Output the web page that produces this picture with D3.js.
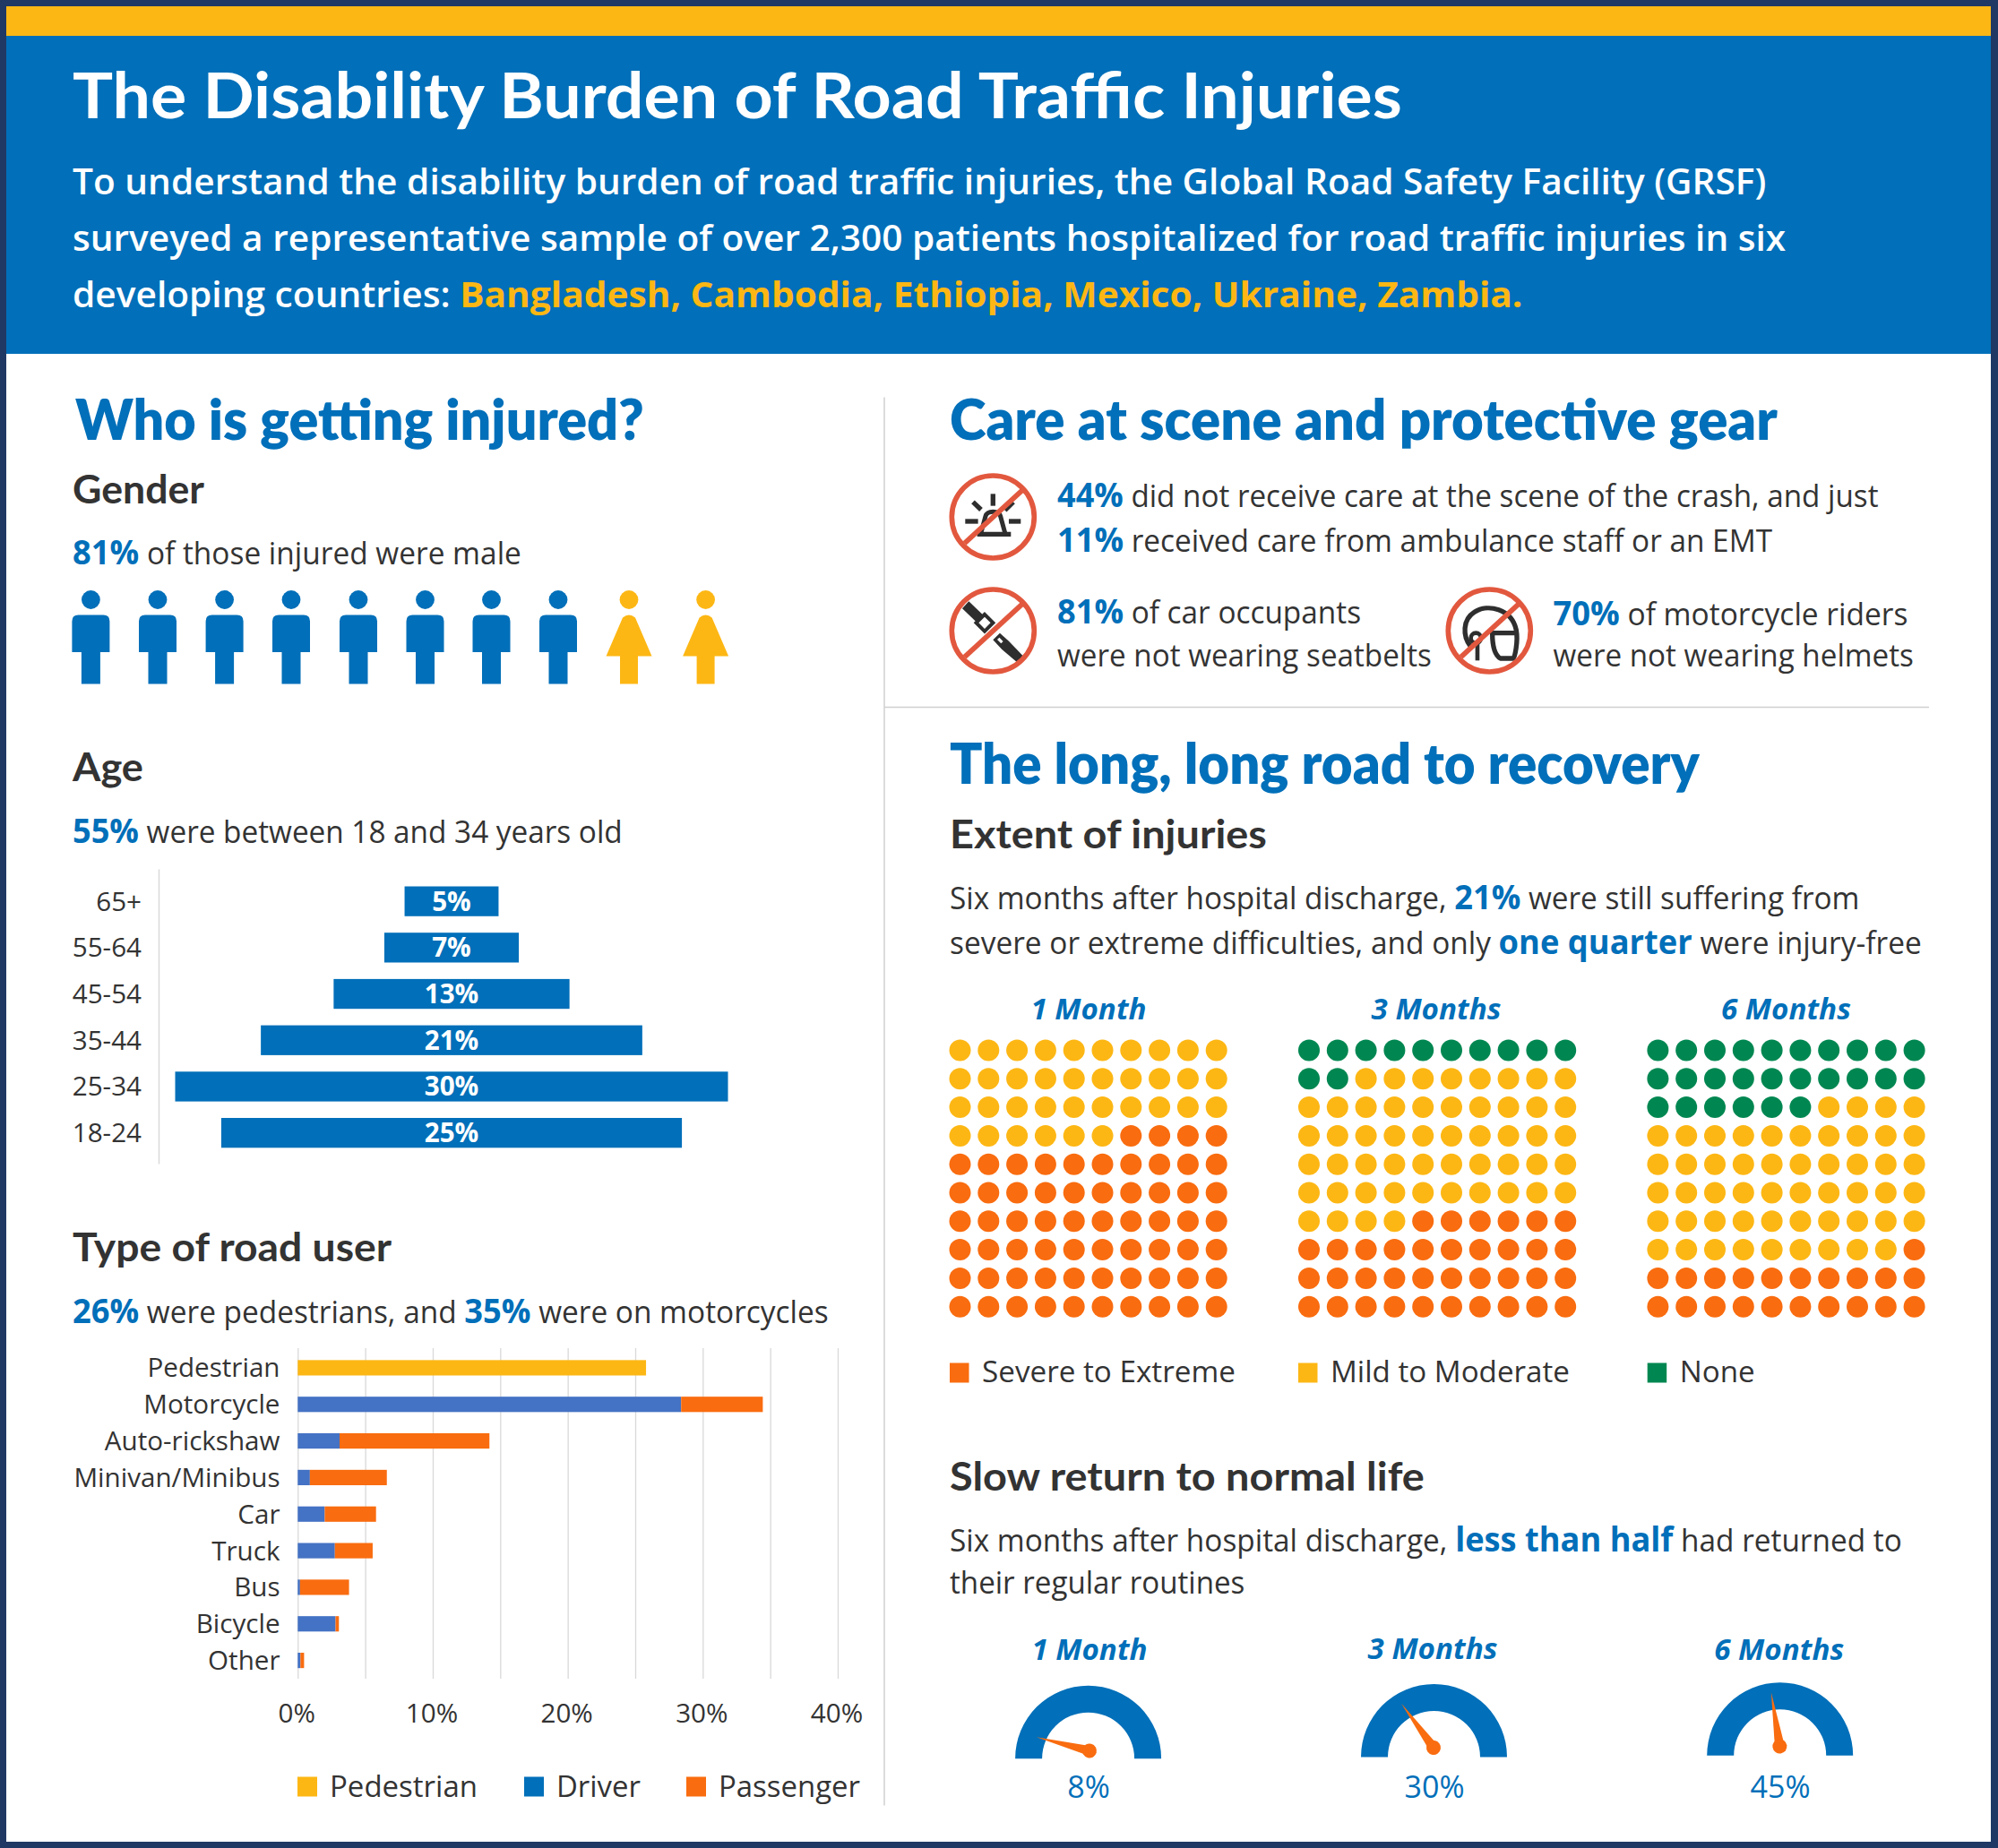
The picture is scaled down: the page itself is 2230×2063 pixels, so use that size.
<!DOCTYPE html>
<html><head><meta charset="utf-8">
<script src="https://cdn.jsdelivr.net/npm/d3@7"></script>
<style>html,body{margin:0;padding:0;background:#fff}svg{display:block}</style>
</head><body><svg id="c" width="2230" height="2063"></svg>
<script>
// ---------- data ----------
const ageGroups = ["65+","55-64","45-54","35-44","25-34","18-24"];
const ageShares = [5.1,7.3,12.8,20.7,30,25];
const ageLabels = ["5%","7%","13%","21%","30%","25%"];
const roadUsers = ["Pedestrian","Motorcycle","Auto-rickshaw","Minivan/Minibus","Car","Truck","Bus","Bicycle","Other"];
const roadPedestrian = [25.8,0,0,0,0,0,0,0,0];
const roadDriver = [0,28.4,3.1,0.9,2.0,2.75,0.17,2.8,0.2];
const roadPassenger = [0,6.05,11.1,5.7,3.8,2.8,3.63,0.25,0.27];
const roadKeys = ["Pedestrian","Driver","Passenger"];
const roadTicks = [0,5,10,15,20,25,30,35,40];
const genderIcons = ["m","m","m","m","m","m","m","m","f","f"];
const periods = ["1 Month","3 Months","6 Months"];
const extentNone = [0,12,26];
const extentMild = [36,52,53];
const extentSevere = [64,36,21];
const extentKeys = ["Severe to Extreme","Mild to Moderate","None"];
const returnedPct = [8,30,45];

const BLUE="#016fb9",NAVY="#1f3864",YEL="#fdb714",ORG="#f96c0f",GRN="#008751",DARK="#333333",RED="#e2583e",GRID="#d9d9d9",BAR2="#4472c4";
const OS="'Open Sans',sans-serif", HD="Lato,sans-serif";
const frame=d3.select("#c");

// ---------- frame ----------
frame.append("rect").attr("width",2230).attr("height",2063).attr("fill",NAVY);
frame.append("rect").attr("x",7).attr("y",7).attr("width",2215).attr("height",2049).attr("fill","#fff");
frame.append("rect").attr("x",7).attr("y",7).attr("width",2215).attr("height",33).attr("fill",YEL);
frame.append("rect").attr("x",7).attr("y",40).attr("width",2215).attr("height",355).attr("fill",BLUE);

const svg=frame.append("g").attr("transform","translate(0,1.5)");

// text helper: parts=[[string,{fill,weight,size}],...]; horizontally fitted to the width
function put(x,y,parts,o){
  if(typeof parts==="string")parts=[[parts,{}]];
  const t=svg.append("text").attr("font-family",o.font||OS).attr("font-size",o.size)
    .attr("font-weight",o.weight||400).attr("font-style",o.italic?"italic":null).attr("fill",o.fill||DARK);
  parts.forEach(p=>{const s=t.append("tspan").text(p[0]);
    if(p[1].fill)s.attr("fill",p[1].fill); if(p[1].weight)s.attr("font-weight",p[1].weight); if(p[1].size)s.attr("font-size",p[1].size);});
  const len=t.node().getComputedTextLength();
  const k=o.w?o.w/len:1, w=len*k;
  const dx=o.anchor==="end"?-w:o.anchor==="middle"?-w/2:0;
  t.attr("transform",`translate(${x+dx},${y}) scale(${k},1)`);
  return t;
}
const B={fill:BLUE,weight:700,size:38};

// ---------- header ----------
put(81,130.5,"The Disability Burden of Road Traffic Injuries",{font:HD,size:70,weight:700,fill:"#fff",w:1484});
const hw={fill:"#fff",size:39.5,weight:600};
put(81,215.5,"To understand the disability burden of road traffic injuries, the Global Road Safety Facility (GRSF)",{...hw,w:1891});
put(81,278.5,"surveyed a representative sample of over 2,300 patients hospitalized for road traffic injuries in six",{...hw,w:1913});
put(81,341,[["developing countries: ",{}],["Bangladesh, Cambodia, Ethiopia, Mexico, Ukraine, Zambia.",{fill:YEL,weight:700}]],{...hw,w:1619});

// ---------- dividers ----------
svg.append("line").attr("x1",987).attr("x2",987).attr("y1",442).attr("y2",2014).attr("stroke","#d0d0d0").attr("stroke-width",1.5);
svg.append("line").attr("x1",987).attr("x2",2153).attr("y1",788).attr("y2",788).attr("stroke","#d0d0d0").attr("stroke-width",1.5);

// ---------- section headings ----------
const H1={font:HD,size:63,weight:800,fill:BLUE}, H2={font:HD,size:43,weight:700,fill:DARK}, BODY={size:35};
put(84,489,"Who is getting injured?",{...H1,w:635});
put(81,560,"Gender",{...H2,w:147});
put(81,628.5,[["81%",B],[" of those injured were male",{}]],{...BODY,w:501});
put(81,870.5,"Age",{...H2,w:79});
put(81,939.5,[["55%",B],[" were between 18 and 34 years old",{}]],{...BODY,w:614});
put(81,1406,"Type of road user",{...H2,w:356});
put(81,1475.5,[["26%",B],[" were pedestrians, and ",{}],["35%",B],[" were on motorcycles",{}]],{...BODY,w:844});
put(1060,489,"Care at scene and protective gear",{...H1,w:924});
put(1060,873.5,"The long, long road to recovery",{...H1,w:837});
put(1060,945,"Extent of injuries",{...H2,w:354});
put(1060,1013.5,[["Six months after hospital discharge, ",{}],["21%",B],[" were still suffering from",{}]],{...BODY,w:1016});
put(1060,1063.5,[["severe or extreme difficulties, and only ",{}],["one quarter",B],[" were injury-free",{}]],{...BODY,w:1085});
put(1060,1662,"Slow return to normal life",{...H2,w:530});
put(1060,1730.5,[["Six months after hospital discharge, ",{}],["less than half",B],[" had returned to",{}]],{...BODY,w:1063});
put(1060,1777,"their regular routines",{...BODY,w:329.5});

// ---------- gender icons ----------
const genderX=d3.scaleOrdinal().domain(d3.range(10)).range([101.4,176,250.6,325,400,474.5,548.5,623,702,787.6]);
const MALE="M-21,692 L-21,726.5 L-10.5,726.5 L-10.5,762 L10.5,762 L10.5,726.5 L21,726.5 L21,692 Q21,685 14,685 L-14,685 Q-21,685 -21,692 Z";
const FEMALE="M-7,688 Q0,682 7,688 L25.5,731 L10,731 L10,762 L-10,762 L-10,731 L-25.5,731 Z";
const gG=svg.append("g").selectAll("g").data(genderIcons).join("g")
  .attr("transform",(d,i)=>`translate(${genderX(i)},0)`).attr("fill",d=>d==="m"?BLUE:YEL);
gG.append("circle").attr("cy",668).attr("r",10.4);
gG.append("path").attr("d",d=>d==="m"?MALE:FEMALE);

// ---------- age bars ----------
const ageY=d3.scaleBand().domain(ageGroups).range([978.8,1289]).paddingInner(.356).paddingOuter(.178);
const ageW=d3.scaleLinear().domain([0,30]).range([0,617]);
const ageCx=504;
svg.append("line").attr("x1",177.5).attr("x2",177.5).attr("y1",969).attr("y2",1298).attr("stroke",GRID).attr("stroke-width",1.5);
svg.append("g").attr("fill",BLUE).selectAll("rect").data(ageGroups).join("rect")
  .attr("x",(d,i)=>ageCx-ageW(ageShares[i])/2).attr("y",d=>ageY(d)).attr("width",(d,i)=>ageW(ageShares[i])).attr("height",ageY.bandwidth());
svg.append("g").selectAll("text").data(ageGroups).join("text").attr("x",158).attr("y",d=>ageY(d)+ageY.bandwidth()/2+10.5)
  .attr("text-anchor","end").attr("font-family",OS).attr("font-size",29.6).attr("fill",DARK).text(d=>d);
svg.append("g").selectAll("text").data(ageLabels).join("text").attr("x",ageCx).attr("y",(d,i)=>ageY(ageGroups[i])+ageY.bandwidth()/2+10.5)
  .attr("text-anchor","middle").attr("font-family",OS).attr("font-size",29.6).attr("font-weight",700).attr("fill","#fff").text(d=>d);

// ---------- road users ----------
const rx=d3.scaleLinear().domain([0,40]).range([332.3,935]);
const ry=d3.scaleBand().domain(roadUsers).range([1505,1872.5]).paddingInner(.58).paddingOuter(.29);
const ax=svg.append("g").attr("transform","translate(0,1872.4)")
  .call(d3.axisBottom(rx).tickValues(roadTicks).tickSize(-369).tickFormat(d=>d%10===0?d+"%":""));
ax.select(".domain").remove();
ax.selectAll("line").attr("stroke",GRID).attr("stroke-width",1.3);
ax.selectAll("text").attr("font-family",OS).attr("font-size",29.6).attr("fill",DARK).attr("dy",0).attr("y",49).attr("x",-1.5);
const roadRows=roadUsers.map((u,i)=>({u,Pedestrian:roadPedestrian[i],Driver:roadDriver[i],Passenger:roadPassenger[i]}));
const roadStack=d3.stack().keys(roadKeys)(roadRows);
const roadCol={Pedestrian:YEL,Driver:BAR2,Passenger:ORG};
svg.append("g").selectAll("g").data(roadStack).join("g").attr("fill",s=>roadCol[s.key])
  .selectAll("rect").data(s=>s).join("rect")
  .attr("x",d=>rx(d[0])).attr("width",d=>rx(d[1])-rx(d[0])).attr("y",d=>ry(d.data.u)).attr("height",ry.bandwidth());
svg.append("g").selectAll("text").data(roadUsers).join("text").attr("x",312.5).attr("y",d=>ry(d)+ry.bandwidth()/2+10.5)
  .attr("text-anchor","end").attr("font-family",OS).attr("font-size",29.6).attr("fill",DARK).text(d=>d);
const roadLegX=d3.scaleOrdinal().domain(roadKeys).range([332,585,766]);
const roadLegW=d3.scaleOrdinal().domain(roadKeys).range([165,94,158]);
const roadLegC=d3.scaleOrdinal().domain(roadKeys).range([YEL,BLUE,ORG]);
roadKeys.forEach(k=>{
  svg.append("rect").attr("x",roadLegX(k)).attr("y",1982).attr("width",22).attr("height",22).attr("fill",roadLegC(k));
  put(roadLegX(k)+36,2004.5,k,{size:32,w:roadLegW(k)});
});

// ---------- icons ----------
function icon(cx,cy,draw){
  const g=svg.append("g").attr("transform",`translate(${cx},${cy}) scale(.3333) translate(-175,-172)`);
  draw(g);
  g.append("circle").attr("cx",175).attr("cy",172).attr("r",138).attr("fill","none").attr("stroke",RED).attr("stroke-width",17);
  g.append("line").attr("x1",272).attr("y1",84).attr("x2",80).attr("y2",260).attr("stroke",RED).attr("stroke-width",17);
}
const INK="#2e2e2e";
icon(1108.3,575.5,g=>{
  const ln=(a,b,c,d)=>g.append("line").attr("x1",a).attr("y1",b).attr("x2",c).attr("y2",d).attr("stroke",INK).attr("stroke-width",16);
  ln(175,95,175,135);ln(108,122,135,148);ln(243,122,215,150);ln(82,187,125,187);ln(228,187,268,187);
  g.append("path").attr("d","M122,222 H235 V238 H122 Z").attr("fill",INK);
  g.append("path").attr("d","M135,225 L150,170 Q155,155 175,155 Q195,155 200,170 L215,225").attr("fill","none").attr("stroke",INK).attr("stroke-width",15);
});
icon(1108.3,702.5,g=>{
  g.append("path").attr("d","M94,74 L72,98 L122,146 L144,122 Z").attr("fill",INK);
  g.append("rect").attr("x",-20).attr("y",-20).attr("width",40).attr("height",40).attr("transform","translate(147,146) rotate(45)").attr("fill","#fff").attr("stroke",INK).attr("stroke-width",12);
  g.append("path").attr("d","M198,180 L175,203 L205,235 L258,280 L277,258 L228,207 Z").attr("fill",INK);
  g.append("rect").attr("x",-9).attr("y",-5).attr("width",18).attr("height",10).attr("transform","translate(199,205) rotate(45)").attr("fill","#fff");
});
icon(1662.3,702.5,g=>{
  g.append("path").attr("d","M112,225 C85,190 85,135 125,110 C170,80 250,100 265,170 C272,210 260,260 255,265 L212,265 C195,255 185,225 185,180 L268,180")
    .attr("fill","none").attr("stroke",INK).attr("stroke-width",16).attr("stroke-linejoin","round");
  g.append("circle").attr("cx",130).attr("cy",197).attr("r",17).attr("fill","none").attr("stroke",INK).attr("stroke-width",14);
  g.append("line").attr("x1",135).attr("y1",215).attr("x2",135).attr("y2",272).attr("stroke",INK).attr("stroke-width",14);
});
put(1180,564,[["44%",B],[" did not receive care at the scene of the crash, and just",{}]],{...BODY,w:917});
put(1180,614,[["11%",B],[" received care from ambulance staff or an EMT",{}]],{...BODY,w:798});
put(1180,694.5,[["81%",B],[" of car occupants",{}]],{...BODY,w:339});
put(1180,742,"were not wearing seatbelts",{...BODY,w:418});
put(1733.5,696,[["70%",B],[" of motorcycle riders",{}]],{...BODY,w:396});
put(1733.5,742.5,"were not wearing helmets",{...BODY,w:402.5});

// ---------- waffles ----------
const wfX=[1071.5,1461,1850.4];
const wfIdx=d3.scaleLinear().domain([0,9]).range([0,286.2]);
const wfCol=d3.scaleOrdinal().domain(["n","m","s"]).range([GRN,YEL,ORG]);
const wfTitleX=[1215,1603,1993.4];
periods.forEach((p,k)=>{
  const cells=[...Array(extentNone[k]).fill("n"),...Array(extentMild[k]).fill("m"),...Array(extentSevere[k]).fill("s")];
  svg.append("g").selectAll("circle").data(cells).join("circle")
    .attr("cx",(d,i)=>wfX[k]+wfIdx(i%10)).attr("cy",(d,i)=>1171+wfIdx(Math.floor(i/10))).attr("r",12).attr("fill",d=>wfCol(d));
  put(wfTitleX[k],1136.5,p,{size:32,weight:700,italic:true,fill:BLUE,anchor:"middle",w:k?145:129});
});
const extLegX=[1060,1449,1838.7], extLegW=[283,267,84], extLegC=[ORG,YEL,GRN];
extentKeys.forEach((k,i)=>{
  svg.append("rect").attr("x",extLegX[i]).attr("y",1520).attr("width",21.5).attr("height",22).attr("fill",extLegC[i]);
  put(extLegX[i]+36,1541.7,k,{size:33,w:extLegW[i]});
});

// ---------- gauges ----------
const gaugeX=[1214.6,1600.5,1986.7], gaugeBase=[1961.7,1960,1958.3], pivotX=[1216,1600,1986.4], pivotY=[1953,1949.5,1948];
const gaugeTitleX=[1216,1599,1985.7], gaugeTitleY=[1851.7,1850,1851.7], gaugeLabelX=[1215,1601,1987];
const needleA=d3.scaleLinear().domain([0,100]).range([-90,90]);
const gaugeArc=d3.arc().innerRadius(51.5).outerRadius(81.5).startAngle(-Math.PI/2).endAngle(Math.PI/2);
periods.forEach((p,k)=>{
  put(gaugeTitleX[k],gaugeTitleY[k],p,{size:32,weight:700,italic:true,fill:BLUE,anchor:"middle",w:k?145:129});
  svg.append("path").attr("d",gaugeArc()).attr("transform",`translate(${gaugeX[k]},${gaugeBase[k]})`).attr("fill",BLUE);
  const n=svg.append("g").attr("transform",`translate(${pivotX[k]},${pivotY[k]}) rotate(${needleA(returnedPct[k])})`).attr("fill",ORG);
  n.append("path").attr("d","M-5.5,0 L0,-61 L5.5,0 Z");
  n.append("circle").attr("r",8);
  put(gaugeLabelX[k],2005,returnedPct[k]+"%",{size:34,fill:BLUE,anchor:"middle"});
});
</script></body></html>
